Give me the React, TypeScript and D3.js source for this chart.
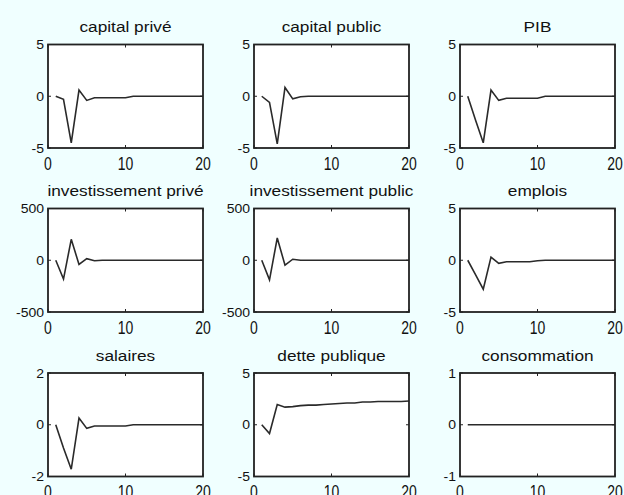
import { useMemo } from "react";
import * as d3 from "d3";

const periods = [1, 2, 3, 4, 5, 6, 7, 8, 9, 10, 11, 12, 13, 14, 15, 16, 17, 18, 19, 20];

const titles = [
  "capital privé",
  "capital public",
  "PIB",
  "investissement privé",
  "investissement public",
  "emplois",
  "salaires",
  "dette publique",
  "consommation",
];

const capitalPrive = [0, -0.3, -4.5, 0.6, -0.4, -0.15, -0.15, -0.15, -0.15, -0.15, 0, 0, 0, 0, 0, 0, 0, 0, 0, 0];
const capitalPublic = [0, -0.6, -4.6, 0.85, -0.25, -0.05, 0, 0, 0, 0, 0, 0, 0, 0, 0, 0, 0, 0, 0, 0];
const pib = [0, -2.3, -4.5, 0.6, -0.4, -0.2, -0.2, -0.2, -0.2, -0.2, 0, 0, 0, 0, 0, 0, 0, 0, 0, 0];
const investPrive = [0, -182, 202, -40, 15, -5, 0, 0, 0, 0, 0, 0, 0, 0, 0, 0, 0, 0, 0, 0];
const investPublic = [0, -190, 215, -48, 10, 0, 0, 0, 0, 0, 0, 0, 0, 0, 0, 0, 0, 0, 0, 0];
const emplois = [0, -1.4, -2.8, 0.3, -0.3, -0.15, -0.15, -0.15, -0.15, -0.05, 0, 0, 0, 0, 0, 0, 0, 0, 0, 0];
const salaires = [0, -0.9, -1.72, 0.26, -0.14, -0.05, -0.05, -0.05, -0.05, -0.05, 0, 0, 0, 0, 0, 0, 0, 0, 0, 0];
const dette = [0, -0.85, 1.95, 1.7, 1.75, 1.85, 1.9, 1.9, 1.95, 2.0, 2.05, 2.1, 2.1, 2.2, 2.2, 2.25, 2.25, 2.25, 2.25, 2.3];
const consommation = [0, 0, 0, 0, 0, 0, 0, 0, 0, 0, 0, 0, 0, 0, 0, 0, 0, 0, 0, 0];

const series = [capitalPrive, capitalPublic, pib, investPrive, investPublic, emplois, salaires, dette, consommation];
const yLimits = [5, 5, 5, 500, 500, 5, 2, 5, 1];
const xTicks = [0, 10, 20];

const W = 624;
const H = 495;
const colLeft = [48, 254, 460];
const rowTop = [44.5, 208.5, 373];
const boxW = 155;
const boxH = 103.5;
const ink = "#222";

function Panel({ idx }: { idx: number }) {
  const col = idx % 3;
  const row = Math.floor(idx / 3);
  const left = colLeft[col];
  const top = rowTop[row];
  const lim = yLimits[idx];
  const vals = series[idx];

  const x = d3.scaleLinear().domain([0, 20]).range([left, left + boxW]);
  const y = d3.scaleLinear().domain([-lim, lim]).range([top + boxH, top]);
  const yTicks = [-lim, 0, lim];

  const path = useMemo(
    () =>
      d3
        .line<number>()
        .x((_, i) => x(periods[i]))
        .y((d) => y(d))(vals) ?? "",
    [idx]
  );

  return (
    <g>
      <rect x={left} y={top} width={boxW} height={boxH} fill="#fff" />
      <path d={path} fill="none" stroke="#2a2a2a" strokeWidth={1.6} />
      {/* inner ticks */}
      {xTicks.map((t) => (
        <g key={"xt" + t}>
          <line x1={x(t)} x2={x(t)} y1={top + boxH} y2={top + boxH - 3} stroke={ink} />
          <line x1={x(t)} x2={x(t)} y1={top} y2={top + 3} stroke={ink} />
        </g>
      ))}
      {yTicks.map((t) => (
        <g key={"yt" + t}>
          <line x1={left} x2={left + 3} y1={y(t)} y2={y(t)} stroke={ink} />
          <line x1={left + boxW} x2={left + boxW - 3} y1={y(t)} y2={y(t)} stroke={ink} />
        </g>
      ))}
      <rect x={left} y={top} width={boxW} height={boxH} fill="none" stroke={ink} strokeWidth={1.8} />
      {/* title */}
      <text
        transform={`translate(${left + boxW / 2},${top - 12.5}) scale(1.15,1)`}
        textAnchor="middle"
        fontSize={15}
        fill="#111"
      >
        {titles[idx]}
      </text>
      {/* x labels */}
      {xTicks.map((t) => (
        <text
          key={"xl" + t}
          transform={`translate(${x(t)},${top + boxH + 21.5}) scale(1,1.28)`}
          textAnchor="middle"
          fontSize={14}
          fill="#111"
        >
          {t}
        </text>
      ))}
      {/* y labels */}
      {yTicks.map((t) => (
        <text
          key={"yl" + t}
          transform={`translate(${left - 4},${y(t) + 4.5}) scale(1,0.85)`}
          textAnchor="end"
          fontSize={14}
          fill="#111"
        >
          {t}
        </text>
      ))}
    </g>
  );
}

export default function App() {
  return (
    <svg
      width={W}
      height={H}
      style={{ position: "absolute", left: 0, top: 0, background: "#f0ffff" }}
      fontFamily="Arial, 'Liberation Sans', sans-serif"
    >
      <rect width={W} height={H} fill="#f0ffff" />
      {titles.map((_, i) => (
        <Panel key={i} idx={i} />
      ))}
    </svg>
  );
}
